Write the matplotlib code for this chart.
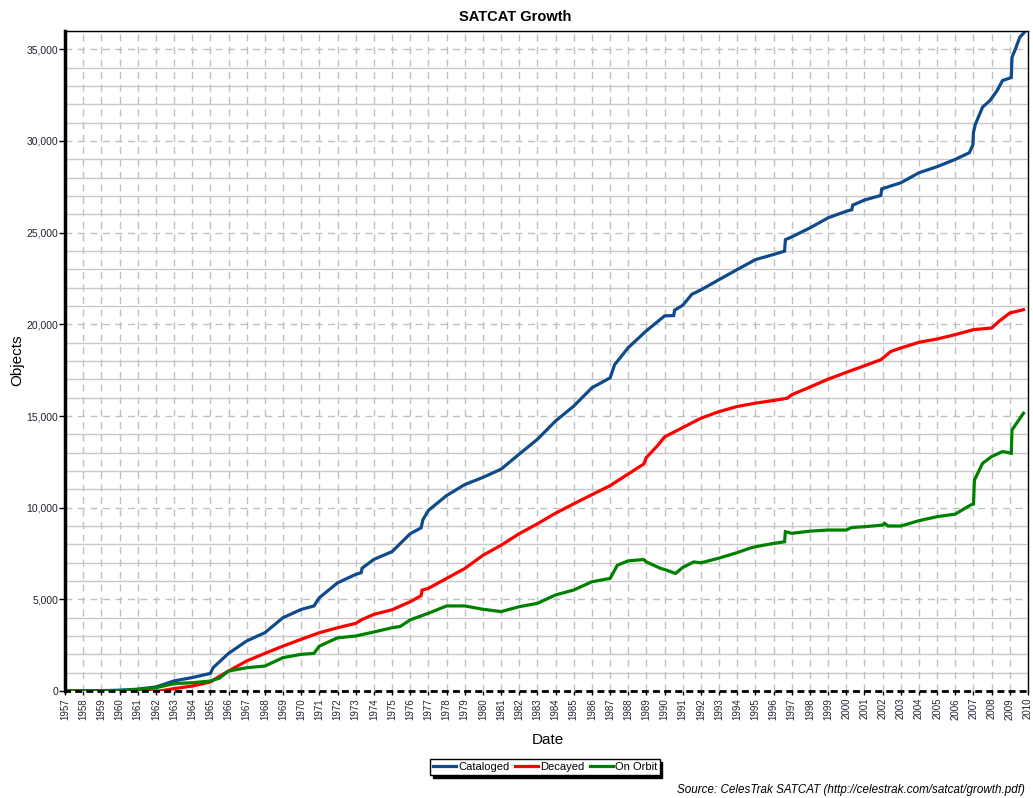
import matplotlib
matplotlib.use("Agg")
import matplotlib.pyplot as plt
from matplotlib.ticker import MultipleLocator, FuncFormatter

plt.rcParams['font.family'] = ['Liberation Sans', 'DejaVu Sans']

# ---- data (decimal years, object counts) ----
cat_t = [1957.0, 1957.75, 1958.5, 1959.5, 1960.0, 1961.0, 1962.0, 1963.0, 1964.0, 1965.0,
         1965.15, 1966.0, 1967.0, 1968.0, 1969.0, 1970.0, 1970.7, 1971.0, 1972.0, 1973.0,
         1973.3, 1973.35, 1974.0, 1975.0, 1976.0, 1976.6, 1976.7, 1977.0, 1978.0, 1979.0,
         1980.0, 1981.0, 1982.0, 1983.0, 1984.0, 1985.0, 1986.0, 1987.0, 1987.25, 1988.0,
         1989.0, 1990.0, 1990.5, 1990.55, 1991.0, 1991.5, 1992.0, 1993.0, 1994.0, 1995.0,
         1996.0, 1996.6, 1996.65, 1997.0, 1998.0, 1999.0, 2000.0, 2000.3, 2000.35, 2001.0,
         2001.9, 2001.95, 2003.0, 2004.0, 2005.0, 2006.0, 2006.77, 2006.97, 2007.0, 2007.1,
         2007.5, 2007.9, 2008.3, 2008.6, 2009.08, 2009.12, 2009.3, 2009.55, 2009.8]
cat_v = [0, 0, 15, 30, 40, 100, 220, 550, 730, 960,
         1270, 2050, 2730, 3180, 4000, 4450, 4640, 5090, 5900, 6360,
         6450, 6700, 7180, 7600, 8580, 8900, 9350, 9850, 10660, 11260,
         11650, 12100, 12920, 13730, 14730, 15540, 16540, 17080, 17800, 18730,
         19650, 20460, 20480, 20770, 21040, 21640, 21880, 22440, 22990, 23530,
         23810, 23990, 24620, 24770, 25260, 25810, 26170, 26250, 26500, 26780,
         27030, 27390, 27720, 28270, 28600, 29000, 29360, 29800, 30480, 30900,
         31850, 32200, 32750, 33300, 33460, 34570, 35000, 35660, 35930]

dec_t = [1957.0, 1962.2, 1963.0, 1964.0, 1965.0, 1965.5, 1966.0, 1967.0, 1968.0, 1969.0,
         1970.0, 1971.0, 1972.0, 1973.0, 1973.35, 1974.0, 1975.0, 1976.0, 1976.6, 1976.65,
         1977.0, 1978.0, 1979.0, 1980.0, 1981.0, 1982.0, 1983.0, 1984.0, 1985.0, 1986.0,
         1987.0, 1988.0, 1988.85, 1989.0, 1989.6, 1990.0, 1991.0, 1992.0, 1993.0, 1994.0,
         1995.0, 1996.0, 1996.75, 1997.0, 1998.0, 1999.0, 2000.0, 2001.0, 2001.9, 2002.45,
         2003.0, 2004.0, 2005.0, 2006.0, 2007.0, 2008.0, 2008.4, 2009.0, 2009.75]
dec_v = [0, 0, 130, 270, 490, 800, 1090, 1640, 2050, 2450,
         2820, 3180, 3450, 3690, 3900, 4180, 4430, 4870, 5200, 5500,
         5600, 6140, 6680, 7400, 7950, 8580, 9120, 9700, 10210, 10710,
         11200, 11840, 12380, 12740, 13370, 13860, 14370, 14880, 15240, 15520,
         15700, 15850, 15970, 16160, 16580, 17010, 17380, 17740, 18070, 18520,
         18710, 19020, 19200, 19440, 19710, 19800, 20160, 20620, 20800]

orb_t = [1957.0, 1957.75, 1960.0, 1961.0, 1962.0, 1963.0, 1964.0, 1965.0, 1965.5, 1966.0,
         1967.0, 1968.0, 1969.0, 1970.0, 1970.7, 1971.0, 1972.0, 1973.0, 1974.0, 1975.0,
         1975.45, 1976.0, 1977.0, 1978.0, 1979.0, 1980.0, 1981.0, 1982.0, 1983.0, 1984.0,
         1985.0, 1986.0, 1987.0, 1987.4, 1988.0, 1988.85, 1989.0, 1989.8, 1990.0, 1990.6,
         1991.0, 1991.6, 1992.0, 1993.0, 1994.0, 1994.66, 1995.0, 1996.0, 1996.6, 1996.65,
         1997.0, 1998.0, 1999.0, 2000.0, 2000.3, 2001.0, 2002.0, 2002.1, 2002.3, 2003.0,
         2004.0, 2005.0, 2006.0, 2006.85, 2007.0, 2007.05, 2007.5, 2008.0, 2008.6, 2009.08,
         2009.12, 2009.5, 2009.75]
orb_v = [0, 0, 30, 80, 180, 400, 450, 545, 700, 1090,
         1270, 1360, 1820, 2000, 2050, 2450, 2900, 3000, 3220, 3450,
         3520, 3880, 4240, 4640, 4640, 4460, 4330, 4600, 4780, 5240,
         5510, 5960, 6140, 6860, 7100, 7170, 7040, 6680, 6630, 6410,
         6740, 7040, 6990, 7250, 7550, 7780, 7870, 8050, 8140, 8690,
         8600, 8720, 8780, 8780, 8920, 8960, 9050, 9150, 9000, 9000,
         9290, 9510, 9650, 10150, 10200, 11500, 12420, 12790, 13060, 12970,
         14240, 14790, 15150]

years = list(range(1957, 2011))
series_names = ["Cataloged", "Decayed", "On Orbit"]
series_colors = ["#0E4A8C", "#FF0000", "#008000"]

fig = plt.figure(figsize=(10.33, 7.98), dpi=100)
ax = fig.add_axes([65/1033, 1-691/798, (1028-65)/1033, (691-31)/798])

ax.set_xlim(1957, 2010)
ax.set_ylim(0, 36000)

# grid
ax.yaxis.set_major_locator(MultipleLocator(5000))
ax.yaxis.set_minor_locator(MultipleLocator(1000))
ax.set_xticks(years)
ax.grid(which='minor', axis='y', color='#c8c8c8', linewidth=1.0, linestyle='-')
ax.grid(which='major', axis='y', color='#c0c0c0', linewidth=1.0, linestyle=(0, (5, 4)))
ax.grid(which='major', axis='x', color='#c0c0c0', linewidth=1.0, linestyle=(0, (5, 4)))
ax.set_axisbelow(True)

lines = []
for t, v, name, col in zip([cat_t, dec_t, orb_t], [cat_v, dec_v, orb_v], series_names, series_colors):
    ln, = ax.plot(t, v, color=col, linewidth=2.3, label=name, solid_joinstyle='miter')
    lines.append(ln)

ax.yaxis.set_major_formatter(FuncFormatter(lambda v, p: f"{int(v):,}"))
ax.set_xticklabels([str(y) for y in years], rotation=90, fontsize=7, color='#222233')
for lab in ax.get_yticklabels():
    lab.set_color('#222233')
ax.tick_params(axis='y', which='major', length=4, width=1, pad=1, labelsize=7.5)
ax.tick_params(axis='y', which='minor', length=0)
ax.tick_params(axis='x', which='major', length=3, width=1, pad=2, labelsize=7)

for s in ['top', 'right']:
    ax.spines[s].set_color('black')
    ax.spines[s].set_linewidth(1.0)
ax.spines['left'].set_linewidth(2.5)
ax.spines['left'].set_color('black')
ax.spines['bottom'].set_linewidth(2.0)
ax.spines['bottom'].set_linestyle((0, (1.5, 2.5)))
ax.spines['bottom'].set_color('black')

fig.text(515/1033, 1-17/798, "SATCAT Growth", ha='center', va='center', fontsize=10.5, fontweight='bold')
fig.text(17/1033, 1-360/798, "Objects", ha='center', va='center', rotation=90, fontsize=11)
fig.text(548/1033, 1-740/798, "Date", ha='center', va='center', fontsize=11)
fig.text(1025/1033, 1-790/798, "Source: CelesTrak SATCAT (http://celestrak.com/satcat/growth.pdf)",
         ha='right', va='center', fontsize=8.4, style='italic')

leg = fig.legend(handles=lines, labels=series_names, loc='center', bbox_to_anchor=(545/1033, 1-767/798),
                 ncol=3, fontsize=8, frameon=True, fancybox=False, shadow={'color': 'black', 'alpha': 1.0},
                 edgecolor='black', handlelength=2.1, handletextpad=0.15, columnspacing=0.5,
                 borderpad=0.25, borderaxespad=0)
leg.get_frame().set_linewidth(1.0)

fig.savefig("out.png", dpi=100)
